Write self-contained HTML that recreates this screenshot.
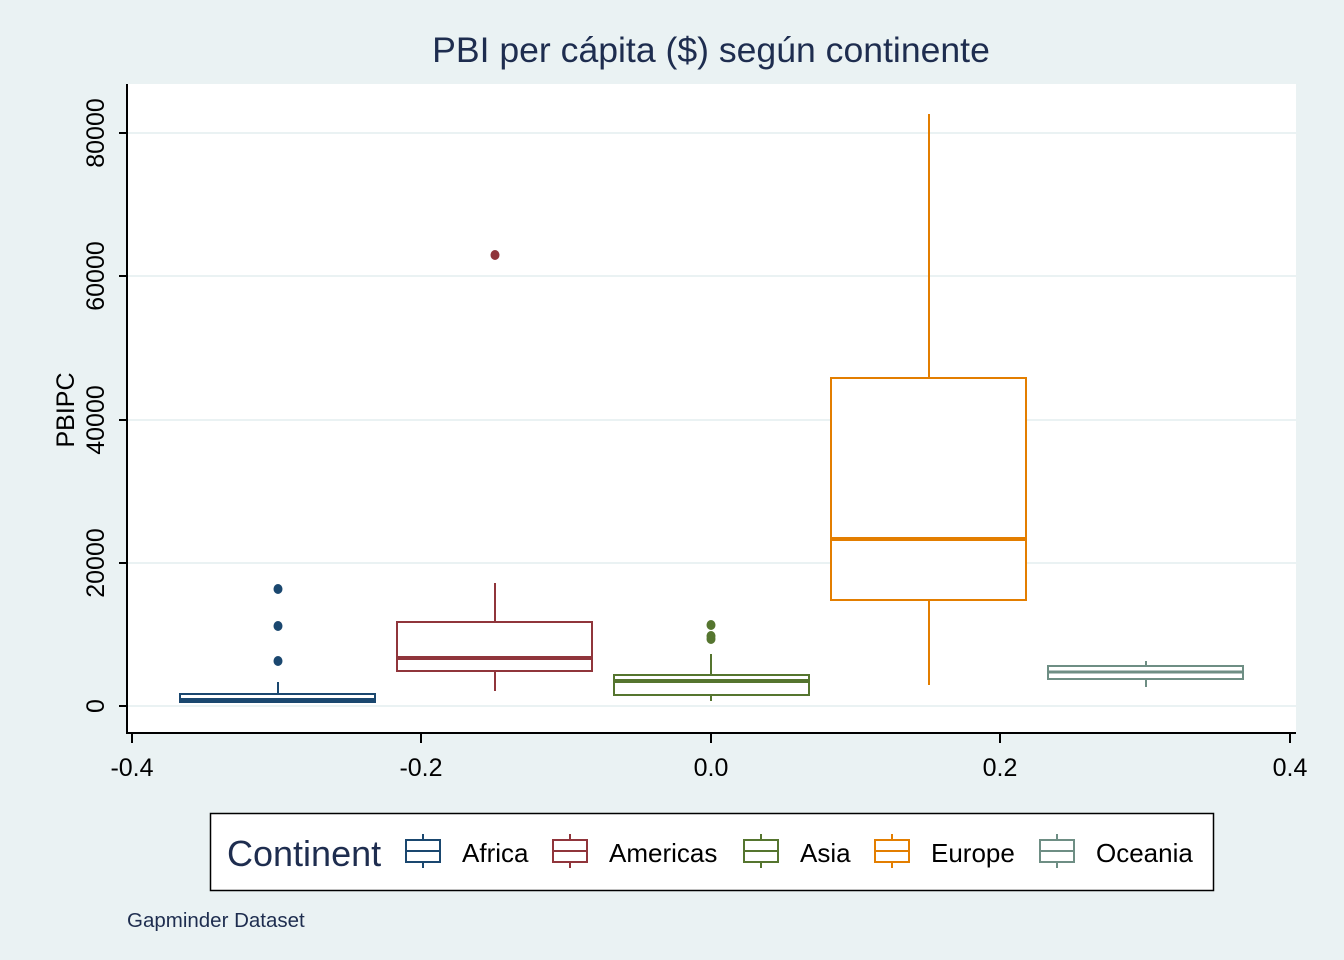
<!DOCTYPE html>
<html><head><meta charset="utf-8"><style>body{margin:0;background:#eaf2f3}svg{display:block}</style></head><body>
<svg width="1344" height="960" xmlns="http://www.w3.org/2000/svg" font-family="Liberation Sans, Arial, sans-serif">
<rect width="1344" height="960" fill="#eaf2f3"/>
<text x="711" y="62" text-anchor="middle" font-size="35.6" fill="#1e2d4f">PBI per cápita ($) según continente</text>
<rect x="127" y="84" width="1169" height="649" fill="#fff"/>
<g stroke="#eaf2f3" stroke-width="2">
<line x1="127" x2="1296" y1="706" y2="706"/><line x1="127" x2="1296" y1="563" y2="563"/>
<line x1="127" x2="1296" y1="420" y2="420"/><line x1="127" x2="1296" y1="276" y2="276"/>
<line x1="127" x2="1296" y1="133" y2="133"/></g>
<g stroke="#000" stroke-width="2">
<line x1="127" y1="84" x2="127" y2="734"/><line x1="126" y1="733" x2="1296" y2="733"/>
<line x1="127" x2="119" y1="706" y2="706"/><line x1="127" x2="119" y1="563" y2="563"/><line x1="127" x2="119" y1="420" y2="420"/><line x1="127" x2="119" y1="276" y2="276"/><line x1="127" x2="119" y1="133" y2="133"/>
<line x1="132" x2="132" y1="733" y2="743"/><line x1="421" x2="421" y1="733" y2="743"/><line x1="711" x2="711" y1="733" y2="743"/><line x1="1000" x2="1000" y1="733" y2="743"/><line x1="1290" x2="1290" y1="733" y2="743"/>
</g>
<g font-size="25" fill="#000" text-anchor="middle">
<text x="132" y="776">-0.4</text><text x="421" y="776">-0.2</text><text x="711" y="776">0.0</text><text x="1000" y="776">0.2</text><text x="1290" y="776">0.4</text>
<text transform="translate(104,706) rotate(-90)">0</text>
<text transform="translate(104,563) rotate(-90)">20000</text>
<text transform="translate(104,420) rotate(-90)">40000</text>
<text transform="translate(104,276) rotate(-90)">60000</text>
<text transform="translate(104,133) rotate(-90)">80000</text>
<text transform="translate(74,410) rotate(-90)">PBIPC</text>
</g>
<g fill="none" stroke-width="2">
<g stroke="#1a476f"><line x1="278" x2="278" y1="682" y2="703"/><rect x="180" y="694" width="195" height="8" fill="#fff"/><line x1="180" x2="375" y1="700" y2="700" stroke-width="4"/></g>
<g stroke="#90353b"><line x1="495" x2="495" y1="583" y2="691"/><rect x="397" y="622" width="195" height="49" fill="#fff"/><line x1="397" x2="592" y1="658" y2="658" stroke-width="4"/></g>
<g stroke="#55752f"><line x1="711" x2="711" y1="654" y2="701"/><rect x="614" y="675" width="195" height="20" fill="#fff"/><line x1="614" x2="809" y1="681" y2="681" stroke-width="4"/></g>
<g stroke="#e37e00"><line x1="929" x2="929" y1="114" y2="685"/><rect x="831" y="378" width="195" height="222" fill="#fff"/><line x1="831" x2="1026" y1="539" y2="539" stroke-width="4"/></g>
<g stroke="#6e8e84"><line x1="1146" x2="1146" y1="661" y2="687"/><rect x="1048" y="666" width="195" height="13" fill="#fff"/><line x1="1048" x2="1243" y1="672" y2="672" stroke-width="3"/></g>
</g>
<g fill="#1a476f"><ellipse cx="278" cy="589" rx="4.5" ry="5"/><ellipse cx="278" cy="626" rx="4.5" ry="5"/><ellipse cx="278" cy="661" rx="4.5" ry="5"/></g>
<ellipse cx="495" cy="255" rx="4.5" ry="5" fill="#90353b"/>
<g fill="#55752f"><ellipse cx="711" cy="625" rx="4.5" ry="5"/><ellipse cx="711" cy="636" rx="4.5" ry="5"/><ellipse cx="711" cy="639" rx="4.5" ry="5"/></g>
<rect x="210.5" y="813.5" width="1003" height="77" fill="#fff" stroke="#000" stroke-width="1.5"/>
<text x="227" y="866" font-size="36" fill="#1e2d4f">Continent</text>
<g font-size="26" fill="#000">
<text x="462" y="862">Africa</text><text x="609" y="862">Americas</text><text x="800" y="862">Asia</text><text x="931" y="862">Europe</text><text x="1096" y="862">Oceania</text></g>
<g fill="none" stroke-width="2">
<g stroke="#1a476f"><rect x="406" y="840" width="34" height="22"/><line x1="423" x2="423" y1="834" y2="840"/><line x1="423" x2="423" y1="862" y2="868"/><line x1="406" x2="440" y1="851" y2="851"/></g>
<g stroke="#90353b"><rect x="553" y="840" width="34" height="22"/><line x1="570" x2="570" y1="834" y2="840"/><line x1="570" x2="570" y1="862" y2="868"/><line x1="553" x2="587" y1="851" y2="851"/></g>
<g stroke="#55752f"><rect x="744" y="840" width="34" height="22"/><line x1="761" x2="761" y1="834" y2="840"/><line x1="761" x2="761" y1="862" y2="868"/><line x1="744" x2="778" y1="851" y2="851"/></g>
<g stroke="#e37e00"><rect x="875" y="840" width="34" height="22"/><line x1="892" x2="892" y1="834" y2="840"/><line x1="892" x2="892" y1="862" y2="868"/><line x1="875" x2="909" y1="851" y2="851"/></g>
<g stroke="#6e8e84"><rect x="1040" y="840" width="34" height="22"/><line x1="1057" x2="1057" y1="834" y2="840"/><line x1="1057" x2="1057" y1="862" y2="868"/><line x1="1040" x2="1074" y1="851" y2="851"/></g>
</g>
<text x="127" y="927" font-size="20.5" fill="#1e2d4f">Gapminder Dataset</text>
</svg>
</body></html>
